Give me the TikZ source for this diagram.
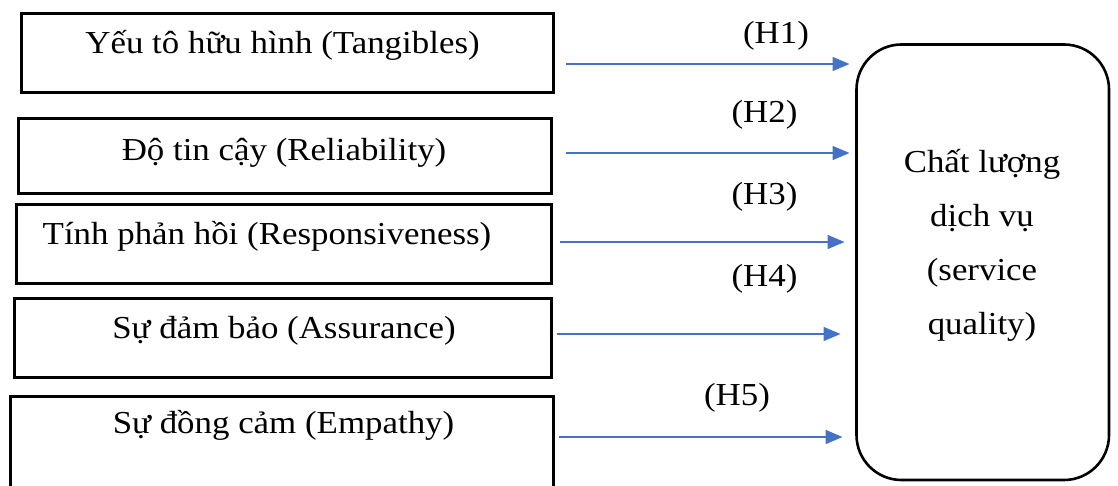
\documentclass[tikz,border=0pt]{standalone}
\usepackage{fontspec}
\setmainfont{Liberation Serif}[FakeStretch=1.09]
\usetikzlibrary{arrows.meta}
\definecolor{arrowblue}{HTML}{4472C4}
\begin{document}
\begin{tikzpicture}[x=1pt,y=-1pt,
  factor/.style={draw=black,line width=3pt,rectangle,inner sep=0pt,minimum height=79pt},
  outcome/.style={draw=black,line width=2.6pt,rectangle,rounded corners=45pt,inner sep=0pt,
                  minimum width=252.5pt,minimum height=435.5pt},
  txt/.style={inner sep=0pt,anchor=base,font=\fontsize{32}{38}\selectfont},
  hyp/.style={inner sep=0pt,anchor=base,font=\fontsize{32}{38}\selectfont},
  link/.style={draw=arrowblue,line width=1.6pt,-{Triangle[length=17pt,width=14pt]}}]
\useasboundingbox (0,0) rectangle (1118,486);

% the five service-quality dimensions
\node[factor,minimum width=532pt] (b1) at (287.5,53) {};
\node[factor,minimum width=533pt,minimum height=75pt] (b2) at (285,156) {};
\node[factor,minimum width=535pt] (b3) at (284,244) {};
\node[factor,minimum width=537pt] (b4) at (283,338) {};
\node[factor,minimum width=543pt,minimum height=120pt] (b5) at (282,456.5) {};

\node[txt] (t1) at (282.5,54) {Yếu tô hữu hình (Tangibles)};
\node[txt] (t2) at (284,161) {Độ tin cậy (Reliability)};
\node[txt] (t3) at (267,244) {Tính phản hồi (Responsiveness)};
\node[txt] (t4) at (284,338) {Sự đảm bảo (Assurance)};
\node[txt] (t5) at (283.5,433) {Sự đồng cảm (Empathy)};

% the outcome (base anchor sits on the last line)
\node[outcome] (q) at (982.75,262.25) {};
\node[txt,align=center,font=\fontsize{32}{54}\selectfont] (qt) at (982,334.7)
  {Chất lượng\\dịch vụ\\(service\\quality)};

% hypotheses
\coordinate (s1) at (566,64);  \coordinate (e1) at (849.5,64);
\coordinate (s2) at (566,153); \coordinate (e2) at (849.5,153);
\coordinate (s3) at (560,242); \coordinate (e3) at (844.5,242);
\coordinate (s4) at (556.5,334);\coordinate (e4) at (840.5,334);
\coordinate (s5) at (558.5,437);\coordinate (e5) at (842.5,437);
\foreach \i in {1,...,5}{\draw[link] (s\i) -- (e\i);}

\node[hyp] (h1) at (776,44) {(H1)};
\node[hyp] (h2) at (764.5,123) {(H2)};
\node[hyp] (h3) at (764.5,205) {(H3)};
\node[hyp] (h4) at (764.5,286) {(H4)};
\node[hyp] (h5) at (737,405) {(H5)};
\end{tikzpicture}
\end{document}
